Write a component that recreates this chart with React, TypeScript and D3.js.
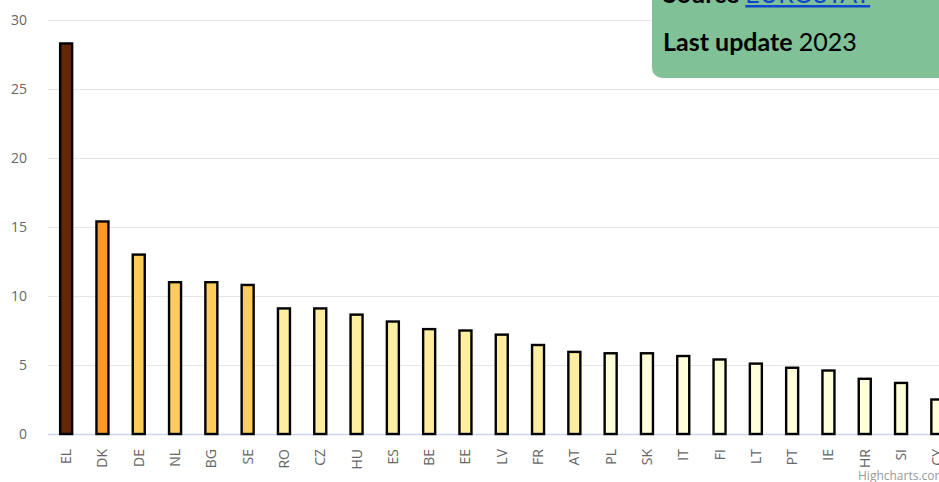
import React from "react";
import * as d3 from "d3";

const categories = ["EL","DK","DE","NL","BG","SE","RO","CZ","HU","ES","BE","EE","LV","FR","AT","PL","SK","IT","FI","LT","PT","IE","HR","SI","CY"];
const values = [28.3,15.4,13.0,11.0,11.0,10.8,9.1,9.1,8.65,8.15,7.6,7.5,7.2,6.45,5.95,5.85,5.85,5.65,5.4,5.1,4.8,4.6,4.0,3.7,2.5];
const colorGroups = [0,1,2,2,2,2,3,3,3,3,3,3,3,3,3,4,4,4,4,4,4,4,4,4,4];
const palette = ["#662506","#fe9929","#fecc5c","#ffeda0","#ffffd9"];
const yTicks = [0,5,10,15,20,25,30];

const W = 939, H = 482;
const left = 48, top = 20, bottom = 434;

export default function App() {
  const x = d3.scaleBand<string>().domain(categories).range([left, left + 36.3 * categories.length]).paddingInner(0).paddingOuter(0);
  const y = d3.scaleLinear().domain([0, 30]).range([bottom, top]);
  const bw = 14;
  const font = "'Open Sans', 'DejaVu Sans', sans-serif";
  const boxFont = "'Lato', 'Noto Sans', sans-serif";
  return (
    <svg width={W} height={H} style={{ position: "absolute", left: 0, top: 0, background: "#fff" }}>
      {yTicks.map(t => (
        <g key={t}>
          {t !== 0 && <line x1={left} x2={W} y1={Math.round(y(t)) + 0.5} y2={Math.round(y(t)) + 0.5} stroke="#e6e6e6" strokeWidth={1} />}
          <text x={27} y={y(t) + 5} textAnchor="end" fontSize={14} fill="#666" fontFamily={font}>{t}</text>
        </g>
      ))}
      <line x1={left} x2={W} y1={bottom + 0.5} y2={bottom + 0.5} stroke="#ccd6eb" strokeWidth={1.5} />
      {categories.map((c, i) => {
        const cx = (x(c) as number) + x.bandwidth() / 2;
        return (
          <g key={c}>
            <rect x={cx - bw / 2 + 1} y={y(values[i])} width={bw - 2} height={bottom - y(values[i])}
              fill={palette[colorGroups[i]]} stroke="#000" strokeWidth={2.4} />
            <text transform={`translate(${cx + 5},${bottom + 15}) rotate(-90)`} textAnchor="end" fontSize={14} fill="#666" fontFamily={font}>{c}</text>
          </g>
        );
      })}
      <text x={858} y={480} fontSize={12} fill="#999" fontFamily={font}>Highcharts.com</text>
      <rect x={652} y={-20} width={297} height={98} rx={10} ry={10} fill="#80c197" />
      <text x={663} y={3} fontSize={25} fontFamily={boxFont} fill="#000">
        <tspan fontWeight="bold">Source </tspan>
        <tspan fill="#0e47cb" textDecoration="underline">EUROSTAT</tspan>
      </text>
      <text x={663} y={51} fontSize={25} fontFamily={boxFont} fill="#000">
        <tspan fontWeight="bold">Last update </tspan>
        <tspan>2023</tspan>
      </text>
    </svg>
  );
}
